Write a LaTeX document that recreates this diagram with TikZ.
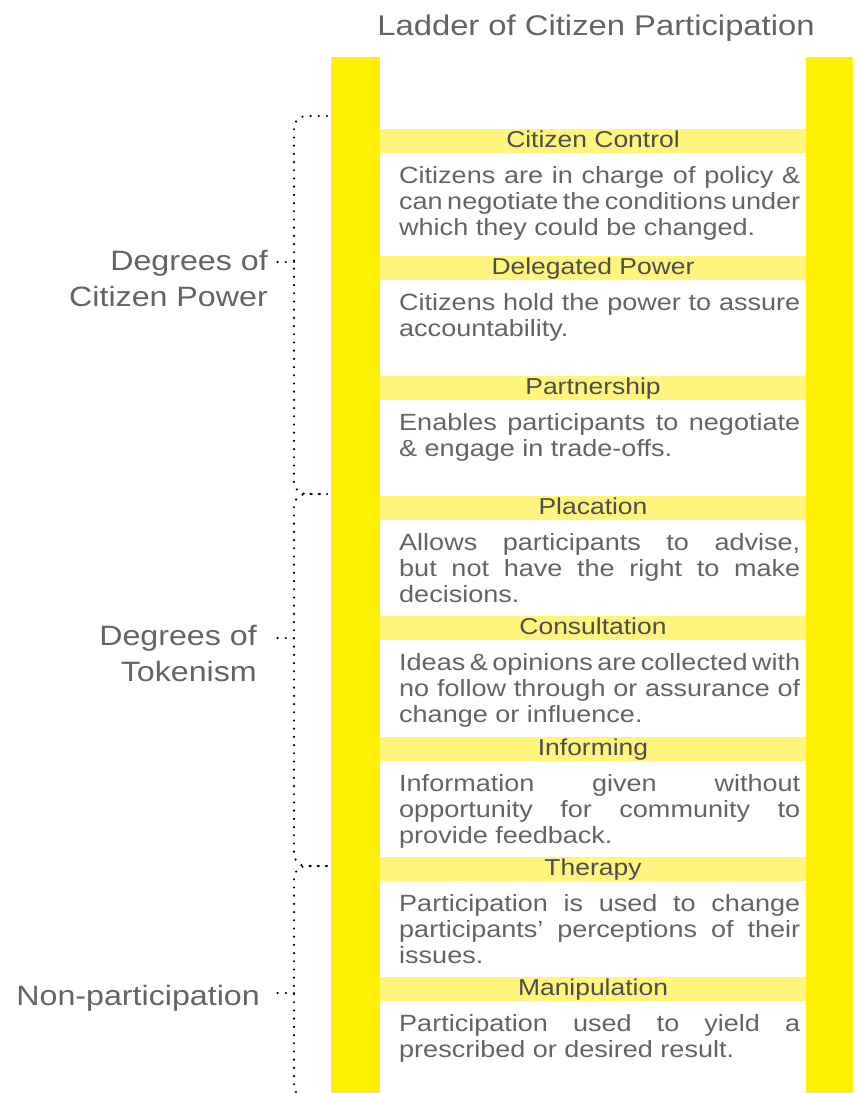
\documentclass[tikz,border=0pt]{standalone}
\usepackage{fontspec}
\setmainfont[FakeStretch=1.15]{Liberation Sans}
\usetikzlibrary{positioning}
\definecolor{railyellow}{RGB}{255,240,0}
\definecolor{rungyellow}{RGB}{255,245,125}
\definecolor{textgray}{RGB}{100,100,102}
\definecolor{labelgray}{RGB}{77,77,79}
\newcommand\bodyfont{\fontsize{23.5}{26}\selectfont\spaceskip=7.5pt plus 15pt minus 4pt\relax\hyphenpenalty=10000\relax}
\begin{document}
\begin{tikzpicture}[x=1pt,y=-1pt,
  rail/.style={fill=railyellow},
  rung/.style={fill=rungyellow,anchor=north,minimum width=426pt,minimum height=24pt,inner sep=0pt,
    text height=18pt,text depth=6pt,text=labelgray,font=\fontsize{23}{24}\selectfont},
  body/.style={anchor=base west,text width=401pt,align=justify,inner sep=0pt,text=textgray,font=\bodyfont},
  side/.style={anchor=base east,align=right,inner sep=0pt,text=textgray,font=\fontsize{28}{36}\selectfont},
  dotline/.style={draw=black,line width=2.4pt,line cap=round,dash pattern=on 0pt off 8.2pt}]
\useasboundingbox (0,0) rectangle (858,1093);
% rails
\fill[rail] (331,57) rectangle (380,1093);
\fill[rail] (806,57) rectangle (853,1093);
\node[anchor=base,text=textgray,font=\fontsize{28.5}{30}\selectfont,inner sep=0pt] (title) at (596,35) {Ladder of Citizen Participation};
% rungs
\node[rung] (r1) at (593,129) {Citizen Control};
\node[rung] (r2) at (593,256) {Delegated Power};
\node[rung] (r3) at (593,376) {Partnership};
\node[rung] (r4) at (593,496) {Placation};
\node[rung] (r5) at (593,616) {Consultation};
\node[rung] (r6) at (593,737) {Informing};
\node[rung] (r7) at (593,857) {Therapy};
\node[rung] (r8) at (593,977) {Manipulation};
% texts
\node[body] (t1) at (399,183) {Citizens are in charge of policy \&\linebreak can negotiate the conditions under\linebreak which they could be changed.};
\node[body] (t2) at (399,310) {Citizens hold the power to assure\linebreak accountability.};
\node[body] (t3) at (399,430) {Enables participants to negotiate\linebreak \& engage in trade-offs.};
\node[body] (t4) at (399,550) {Allows participants to advise,\linebreak but not have the right to make\linebreak decisions.};
\node[body] (t5) at (399,670) {Ideas \& opinions are collected with\linebreak no follow through or assurance of\linebreak change or influence.};
\node[body] (t6) at (399,791) {Information given without\linebreak opportunity for community to\linebreak provide feedback.};
\node[body] (t7) at (399,911) {Participation is used to change\linebreak participants’ perceptions of their\linebreak issues.};
\node[body] (t8) at (399,1031) {Participation used to yield a\linebreak prescribed or desired result.};
% groups
\node[side] (l1) at (268,306) {Degrees of\\Citizen Power};
\node[side] (l2) at (257,681) {Degrees of\\Tokenism};
\node[side] (l3) at (260,1005) {Non-participation};
\coordinate (k1) at (327,116);
\coordinate (k2) at (327,494);
\coordinate (k3) at (327,866);
\coordinate (k4) at (327,1098);
\coordinate (m1) at (294,262);
\coordinate (m2) at (294,638);
\coordinate (m3) at (294,993);
\draw[dotline,rounded corners=12pt] (k1) -- ++(-33,0) |- (k2);
\draw[dotline,rounded corners=12pt] (k2) -- ++(-33,0) |- (k3);
\draw[dotline,rounded corners=12pt] (k3) -- ++(-33,0) |- (k4);
\draw[dotline] (m1) -- ++(-17,0);
\draw[dotline] (m2) -- ++(-17,0);
\draw[dotline] (m3) -- ++(-17,0);
\end{tikzpicture}
\end{document}
